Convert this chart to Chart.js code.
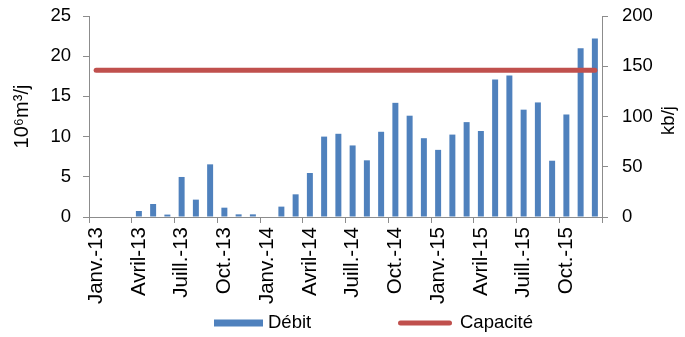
<!DOCTYPE html>
<html>
<head>
<meta charset="utf-8">
<script src="https://cdn.jsdelivr.net/npm/chart.js@4/dist/chart.umd.min.js"></script>
<style>
  html, body { margin: 0; padding: 0; background: #fff; }
  #wrap { width: 685px; height: 337px; }
</style>
</head>
<body>
<div id="wrap"><canvas id="c" width="685" height="337"></canvas></div>
<script>
// Monthly categories, January 2013 to December 2015
const months = [
  'Janv.-13', 'Févr.-13', 'Mars-13', 'Avril-13', 'Mai-13', 'Juin-13',
  'Juill.-13', 'Août-13', 'Sept.-13', 'Oct.-13', 'Nov.-13', 'Déc.-13',
  'Janv.-14', 'Févr.-14', 'Mars-14', 'Avril-14', 'Mai-14', 'Juin-14',
  'Juill.-14', 'Août-14', 'Sept.-14', 'Oct.-14', 'Nov.-14', 'Déc.-14',
  'Janv.-15', 'Févr.-15', 'Mars-15', 'Avril-15', 'Mai-15', 'Juin-15',
  'Juill.-15', 'Août-15', 'Sept.-15', 'Oct.-15', 'Nov.-15', 'Déc.-15'
];

// Throughput, 10^6 m3 per day
const debit = [
  0, 0, 0, 0.75, 1.62, 0.3,
  4.98, 2.16, 6.55, 1.16, 0.33, 0.33,
  0, 1.29, 2.82, 5.47, 10.0, 10.35,
  8.9, 7.05, 10.6, 14.2, 12.6, 9.8,
  8.35, 10.25, 11.8, 10.7, 17.1, 17.6,
  13.35, 14.25, 7.0, 12.75, 21.0, 22.2
];

// Pipeline capacity, 10^6 m3 per day
const capacite = [
  18.25, 18.25, 18.25, 18.25, 18.25, 18.25,
  18.25, 18.25, 18.25, 18.25, 18.25, 18.25,
  18.25, 18.25, 18.25, 18.25, 18.25, 18.25,
  18.25, 18.25, 18.25, 18.25, 18.25, 18.25,
  18.25, 18.25, 18.25, 18.25, 18.25, 18.25,
  18.25, 18.25, 18.25, 18.25, 18.25, 18.25
];

const seriesNames = ['Débit', 'Capacité'];
const axisTitles = ['10⁶m³/j', 'kb/j'];

const FONT = '"Liberation Sans", Arial, sans-serif';
const FONT_SIZE = 18.5;
const AXIS_GREY = '#8c8c8c';
const BLUE = '#4F81BD';
const RED = '#C0504D';

Chart.defaults.font.family = FONT;
Chart.defaults.font.size = FONT_SIZE;
Chart.defaults.color = '#000';

// Legend under the axis labels (filled swatch for the bars, rounded stroke for the line)
// and the right-hand axis title, which reads upwards like the left one.
const extras = {
  id: 'extras',
  afterDraw(chart) {
    const { ctx, chartArea } = chart;
    const [bars, line] = chart.data.datasets;
    const y = 323;
    ctx.save();
    ctx.font = `${FONT_SIZE}px ${FONT}`;
    ctx.textBaseline = 'middle';
    ctx.textAlign = 'left';

    ctx.fillStyle = bars.backgroundColor;
    ctx.fillRect(214, y - 3.5, 49, 7);
    ctx.fillStyle = '#000';
    ctx.fillText(bars.label, 268, y);

    ctx.strokeStyle = line.borderColor;
    ctx.lineWidth = 5;
    ctx.lineCap = 'round';
    ctx.beginPath();
    ctx.moveTo(400.5, y);
    ctx.lineTo(449.5, y);
    ctx.stroke();
    ctx.fillStyle = '#000';
    ctx.fillText(line.label, 460, y);

    // right axis title
    ctx.translate(669, (chartArea.top + chartArea.bottom) / 2 + 4);
    ctx.rotate(-Math.PI / 2);
    ctx.textAlign = 'center';
    ctx.fillText(axisTitles[1], 0, 0);
    ctx.restore();
  }
};

new Chart(document.getElementById('c'), {
  data: {
    labels: months,
    datasets: [
      {
        type: 'bar',
        label: seriesNames[0],
        data: debit,
        backgroundColor: BLUE,
        borderWidth: 0,
        barPercentage: 0.42,
        categoryPercentage: 1,
        yAxisID: 'y',
        order: 1
      },
      {
        type: 'line',
        label: seriesNames[1],
        data: capacite,
        borderColor: RED,
        backgroundColor: RED,
        borderWidth: 5,
        borderCapStyle: 'round',
        pointRadius: 0,
        tension: 0,
        yAxisID: 'y',
        order: 0
      }
    ]
  },
  options: {
    responsive: false,
    animation: false,
    devicePixelRatio: 1,
    layout: { padding: { top: 16, left: 0, right: 0, bottom: 0 } },
    plugins: {
      legend: { display: false },
      tooltip: { enabled: false }
    },
    scales: {
      x: {
        offset: true,
        border: { display: true, color: AXIS_GREY, width: 1 },
        grid: {
          offset: true,
          drawOnChartArea: false,
          drawTicks: true,
          tickLength: 6,
          tickWidth: 1,
          tickColor: c => (c.index === undefined || c.index % 3 === 0) ? AXIS_GREY : 'rgba(0,0,0,0)'
        },
        ticks: {
          autoSkip: false,
          minRotation: 90,
          maxRotation: 90,
          padding: 4,
          font: { size: 20.5 },
          callback: (v, i) => (i % 3 === 0 ? months[i] : '')
        },
        afterFit: s => { s.height = 120; }
      },
      y: {
        position: 'left',
        min: 0,
        max: 25,
        border: { display: true, color: AXIS_GREY, width: 1 },
        grid: { drawOnChartArea: false, tickLength: 6, tickColor: AXIS_GREY },
        ticks: { stepSize: 5, padding: 12 },
        title: { display: true, text: axisTitles[0], font: { size: 20 }, padding: { top: 10, bottom: 4 } },
        afterFit: s => { s.width = 89; s.paddingTop = 0; s.paddingBottom = 0; }
      },
      y2: {
        position: 'right',
        min: 0,
        max: 200,
        border: { display: true, color: AXIS_GREY, width: 1 },
        grid: { drawOnChartArea: false, tickLength: 6, tickColor: AXIS_GREY },
        ticks: { stepSize: 50, padding: 14 },
        afterFit: s => { s.width = 83; s.paddingTop = 0; s.paddingBottom = 0; }
      }
    }
  },
  plugins: [extras]
});
</script>
</body>
</html>
